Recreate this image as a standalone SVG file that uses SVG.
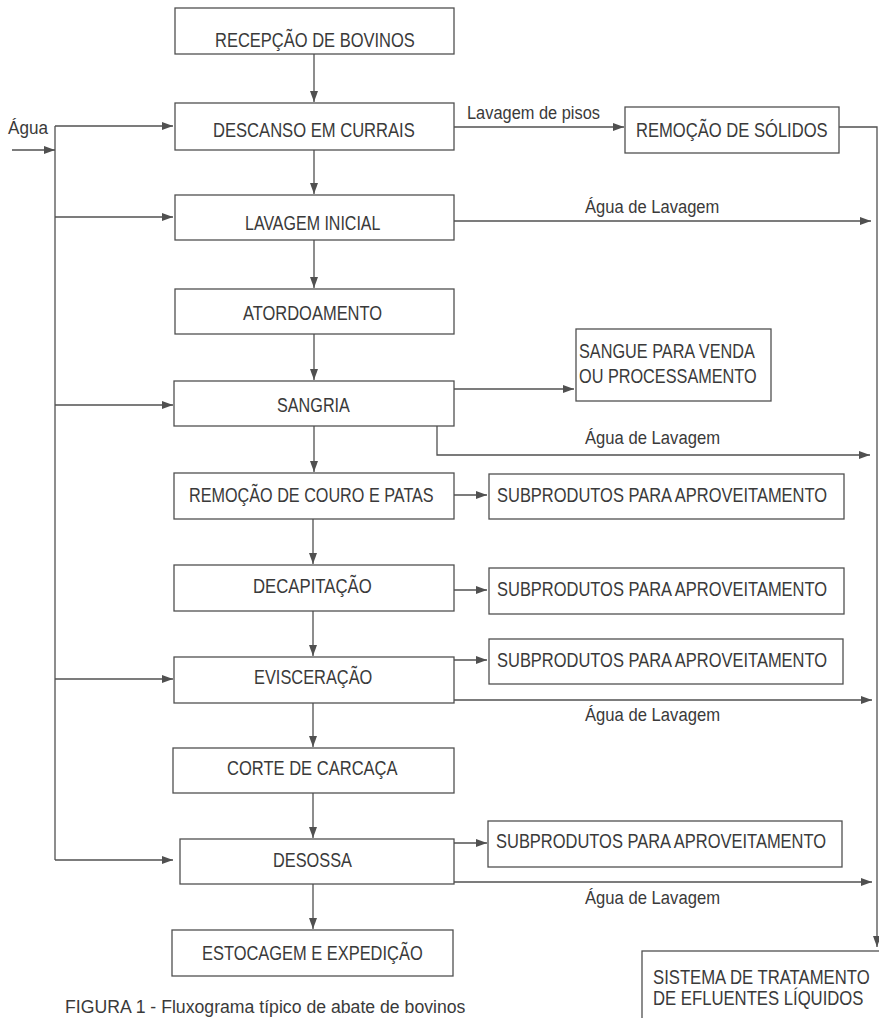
<svg xmlns="http://www.w3.org/2000/svg" width="879" height="1018" viewBox="0 0 879 1018">
<style>
.box{fill:#ffffff;stroke:#505050;stroke-width:1.3}
.t{font-family:"Liberation Sans",Arial,sans-serif;font-size:20px;fill:#3a3a3a}
.lbl{font-family:"Liberation Sans",Arial,sans-serif;font-size:18.5px;fill:#3a3a3a}
.ln{fill:none;stroke:#505050;stroke-width:1.3}
</style>
<defs>
<marker id="ah" markerUnits="userSpaceOnUse" markerWidth="12" markerHeight="10" refX="11" refY="4" orient="auto">
<path d="M0,0 L11,4 L0,8 z" fill="#505050"/>
</marker>
</defs>
<rect width="879" height="1018" fill="#ffffff"/>

<g id="connectors">
<path class="ln" d="M314,54 V102" marker-end="url(#ah)"/>
<path class="ln" d="M314,150 V194" marker-end="url(#ah)"/>
<path class="ln" d="M314,240 V288" marker-end="url(#ah)"/>
<path class="ln" d="M314,334 V380" marker-end="url(#ah)"/>
<path class="ln" d="M314,426 V472" marker-end="url(#ah)"/>
<path class="ln" d="M313,519 V564" marker-end="url(#ah)"/>
<path class="ln" d="M313,611 V656" marker-end="url(#ah)"/>
<path class="ln" d="M313,703 V747" marker-end="url(#ah)"/>
<path class="ln" d="M313,793 V838" marker-end="url(#ah)"/>
<path class="ln" d="M313,884 V929" marker-end="url(#ah)"/>

<path class="ln" d="M12,150 H55" marker-end="url(#ah)"/>
<path class="ln" d="M55,126 V860"/>
<path class="ln" d="M55,126 H173" marker-end="url(#ah)"/>
<path class="ln" d="M55,217 H173" marker-end="url(#ah)"/>
<path class="ln" d="M55,405 H173" marker-end="url(#ah)"/>
<path class="ln" d="M55,679 H173" marker-end="url(#ah)"/>
<path class="ln" d="M55,860 H173" marker-end="url(#ah)"/>

<path class="ln" d="M454,127 H624" marker-end="url(#ah)"/>
<path class="ln" d="M839,127 H877 V947" marker-end="url(#ah)"/>
<path class="ln" d="M454,221 H871" marker-end="url(#ah)"/>
<path class="ln" d="M454,389 H574" marker-end="url(#ah)"/>
<path class="ln" d="M437,426 V455 H870" marker-end="url(#ah)"/>
<path class="ln" d="M454,495 H487" marker-end="url(#ah)"/>
<path class="ln" d="M454,590 H487" marker-end="url(#ah)"/>
<path class="ln" d="M454,660 H487" marker-end="url(#ah)"/>
<path class="ln" d="M454,700 H872" marker-end="url(#ah)"/>
<path class="ln" d="M454,843 H487" marker-end="url(#ah)"/>
<path class="ln" d="M454,882 H872" marker-end="url(#ah)"/>

<text class="lbl" transform="translate(8,134) scale(0.925,1)">Água</text>
<text class="lbl" transform="translate(467,119) scale(0.886,1)">Lavagem de pisos</text>
<text class="lbl" transform="translate(585,213) scale(0.895,1)">Água de Lavagem</text>
<text class="lbl" transform="translate(585,444) scale(0.9,1)">Água de Lavagem</text>
<text class="lbl" transform="translate(585,721) scale(0.9,1)">Água de Lavagem</text>
<text class="lbl" transform="translate(585,904) scale(0.9,1)">Água de Lavagem</text>
</g>

<g id="recepcao"><rect class="box" x="175" y="8" width="279" height="46"/><text class="t" transform="translate(215,47) scale(0.825,1)">RECEPÇÃO DE BOVINOS</text></g>
<g id="descanso"><rect class="box" x="175" y="103" width="279" height="47"/><text class="t" transform="translate(213,137) scale(0.83,1)">DESCANSO EM CURRAIS</text></g>
<g id="lavagem"><rect class="box" x="175" y="195" width="279" height="45"/><text class="t" transform="translate(245,230) scale(0.80,1)">LAVAGEM INICIAL</text></g>
<g id="atordoamento"><rect class="box" x="175" y="289" width="279" height="45"/><text class="t" transform="translate(243,320) scale(0.824,1)">ATORDOAMENTO</text></g>
<g id="sangria"><rect class="box" x="174" y="381" width="280" height="45"/><text class="t" transform="translate(277,412) scale(0.81,1)">SANGRIA</text></g>
<g id="remocao-couro"><rect class="box" x="174" y="473" width="280" height="46"/><text class="t" transform="translate(189,502) scale(0.81,1)">REMOÇÃO DE COURO E PATAS</text></g>
<g id="decapitacao"><rect class="box" x="174" y="565" width="280" height="46"/><text class="t" transform="translate(253,593) scale(0.837,1)">DECAPITAÇÃO</text></g>
<g id="evisceracao"><rect class="box" x="174" y="657" width="280" height="46"/><text class="t" transform="translate(254,684) scale(0.82,1)">EVISCERAÇÃO</text></g>
<g id="corte"><rect class="box" x="173" y="748" width="281" height="45"/><text class="t" transform="translate(227,775) scale(0.827,1)">CORTE DE CARCAÇA</text></g>
<g id="desossa"><rect class="box" x="180" y="839" width="274" height="45"/><text class="t" transform="translate(273,867) scale(0.817,1)">DESOSSA</text></g>
<g id="estocagem"><rect class="box" x="172" y="930" width="281" height="46"/><text class="t" transform="translate(202,960) scale(0.822,1)">ESTOCAGEM E EXPEDIÇÃO</text></g>

<g id="remocao-solidos"><rect class="box" x="625" y="107" width="214" height="46"/><text class="t" transform="translate(636,137) scale(0.83,1)">REMOÇÃO DE SÓLIDOS</text></g>
<g id="sangue"><rect class="box" x="576" y="329" width="195" height="72"/><text class="t" transform="translate(579,358) scale(0.813,1)"><tspan x="0" y="0">SANGUE PARA VENDA</tspan><tspan x="0" y="25">OU PROCESSAMENTO</tspan></text></g>
<g id="sub1"><rect class="box" x="489" y="474" width="355" height="45"/><text class="t" transform="translate(497,502) scale(0.824,1)">SUBPRODUTOS PARA APROVEITAMENTO</text></g>
<g id="sub2"><rect class="box" x="489" y="568" width="355" height="46"/><text class="t" transform="translate(497,596) scale(0.824,1)">SUBPRODUTOS PARA APROVEITAMENTO</text></g>
<g id="sub3"><rect class="box" x="489" y="639" width="354" height="45"/><text class="t" transform="translate(497,667) scale(0.824,1)">SUBPRODUTOS PARA APROVEITAMENTO</text></g>
<g id="sub4"><rect class="box" x="488" y="821" width="354" height="46"/><text class="t" transform="translate(496,848) scale(0.824,1)">SUBPRODUTOS PARA APROVEITAMENTO</text></g>
<g id="tratamento"><rect class="box" x="642" y="951" width="260" height="90"/><text class="t" transform="translate(653,984) scale(0.835,1)"><tspan x="0" y="0">SISTEMA DE TRATAMENTO</tspan><tspan x="0" y="21">DE EFLUENTES LÍQUIDOS</tspan></text></g>

<text class="lbl" font-size="16" transform="translate(65,1013) scale(0.955,1)">FIGURA 1 - Fluxograma típico de abate de bovinos</text>
</svg>
